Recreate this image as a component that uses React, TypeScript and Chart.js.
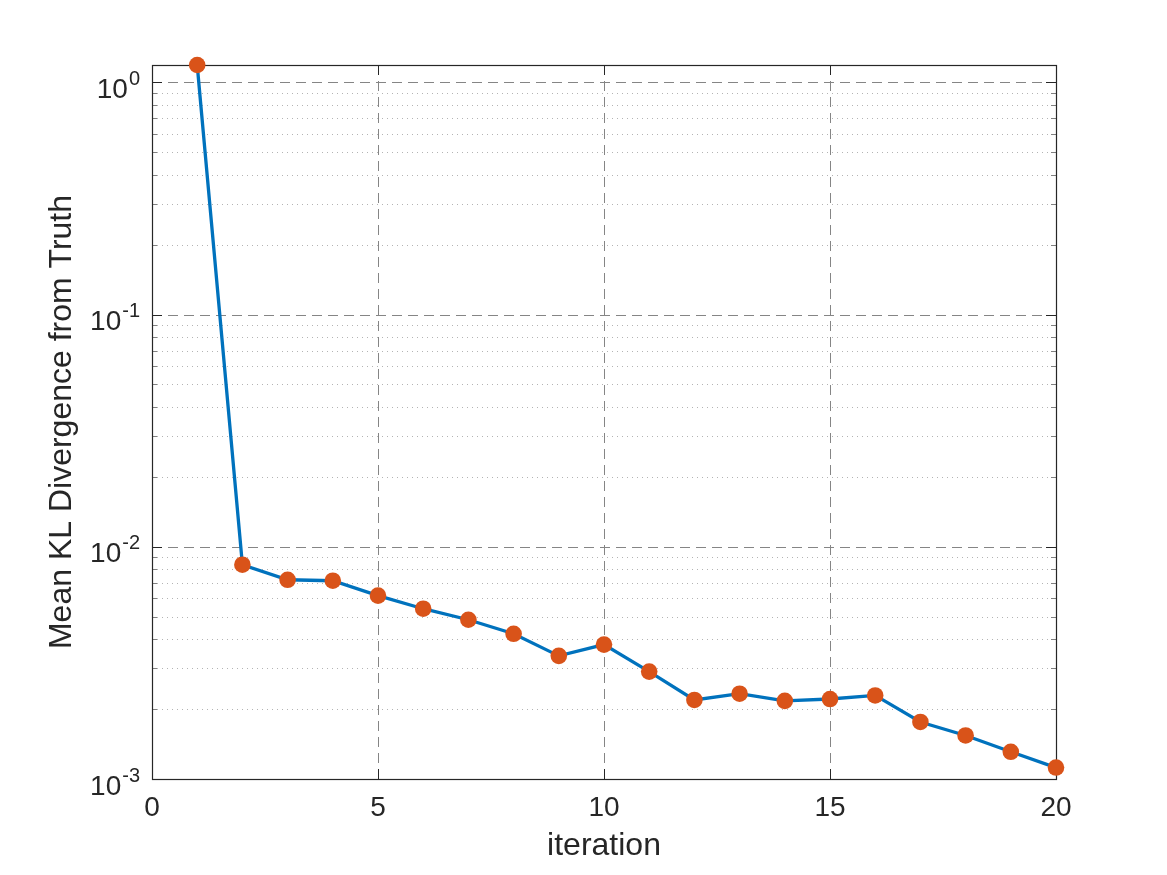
import React, { useEffect, useRef } from "react";
import { Chart, registerables } from "chart.js";

Chart.register(...registerables);

const iterations = [1, 2, 3, 4, 5, 6, 7, 8, 9, 10, 11, 12, 13, 14, 15, 16, 17, 18, 19, 20];
const klDivergence = [
  1.187, 0.00837, 0.00721, 0.00714, 0.00616, 0.00541, 0.00485, 0.00422, 0.00339, 0.00379,
  0.0029, 0.00219, 0.00233, 0.00217, 0.00221, 0.00229, 0.00176, 0.00154, 0.00131, 0.00112,
];
const xTicks = [0, 5, 10, 15, 20];
const yDecades = [0.001, 0.01, 0.1, 1];
const yTickBase = "10";
const yTickExponents = ["-3", "-2", "-1", "0"];
const yMin = 0.001;
const yMax = 1.187;
const xLabel = "iteration";
const yLabel = "Mean KL Divergence from Truth";

const FONT = "'Liberation Sans', Arial, Helvetica, sans-serif";
const TXT = "#262626";

const axesPlugin = {
  id: "matlabAxes",
  beforeDatasetsDraw(chart: any) {
    const { ctx, chartArea } = chart;
    const { left, right, top, bottom } = chartArea;
    const xs = chart.scales.x;
    const ys = chart.scales.y;
    ctx.save();
    // minor y grid (dotted)
    for (const d of yDecades) {
      for (let m = 2; m <= 9; m++) {
        const v = m * d;
        if (v > yMax) continue;
        const py = Math.round(ys.getPixelForValue(v)) + 0.5;
        ctx.setLineDash([1, 4]);
        ctx.strokeStyle = "#b4b4b4";
        ctx.lineWidth = 1;
        ctx.beginPath();
        ctx.moveTo(left, py);
        ctx.lineTo(right, py);
        ctx.stroke();
        ctx.setLineDash([]);
        ctx.strokeStyle = "#808080";
        ctx.beginPath();
        ctx.moveTo(left, py);
        ctx.lineTo(left + 5, py);
        ctx.moveTo(right, py);
        ctx.lineTo(right - 5, py);
        ctx.stroke();
      }
    }
    // major y grid (dashed)
    for (const v of yDecades) {
      const py = Math.round(ys.getPixelForValue(v)) + 0.5;
      if (v > yMin) {
        ctx.setLineDash([10, 6]);
        ctx.strokeStyle = "#858585";
        ctx.lineWidth = 1;
        ctx.beginPath();
        ctx.moveTo(left, py);
        ctx.lineTo(right, py);
        ctx.stroke();
      }
      ctx.setLineDash([]);
      ctx.strokeStyle = TXT;
      ctx.beginPath();
      ctx.moveTo(left, py);
      ctx.lineTo(left + 10, py);
      ctx.moveTo(right, py);
      ctx.lineTo(right - 10, py);
      ctx.stroke();
    }
    // x grid
    for (const v of xTicks) {
      const px = Math.round(xs.getPixelForValue(v)) + 0.5;
      if (v > 0 && v < 20) {
        ctx.setLineDash([10, 6]);
        ctx.strokeStyle = "#858585";
        ctx.lineWidth = 1;
        ctx.beginPath();
        ctx.moveTo(px, bottom);
        ctx.lineTo(px, top);
        ctx.stroke();
      }
      ctx.setLineDash([]);
      ctx.strokeStyle = TXT;
      ctx.beginPath();
      ctx.moveTo(px, bottom);
      ctx.lineTo(px, bottom - 10);
      ctx.moveTo(px, top);
      ctx.lineTo(px, top + 10);
      ctx.stroke();
    }
    // box
    ctx.setLineDash([]);
    ctx.strokeStyle = TXT;
    ctx.lineWidth = 1.2;
    ctx.strokeRect(Math.round(left) + 0.5, Math.round(top) + 0.5, Math.round(right - left), Math.round(bottom - top));

    // y tick labels with superscript exponents
    const rightEdge = left - 12;
    ctx.fillStyle = TXT;
    ctx.textAlign = "left";
    ctx.textBaseline = "alphabetic";
    yDecades.forEach((v, i) => {
      const py = ys.getPixelForValue(v);
      ctx.font = `28px ${FONT}`;
      const wBase = ctx.measureText(yTickBase).width;
      ctx.font = `20px ${FONT}`;
      const exp = yTickExponents[i];
      const wExp = ctx.measureText(exp).width;
      const x0 = rightEdge - wBase - wExp - 1;
      ctx.font = `28px ${FONT}`;
      ctx.fillText(yTickBase, x0, py + 15.5);
      ctx.font = `20px ${FONT}`;
      ctx.fillText(exp, x0 + wBase + 1, py + 2.5);
    });
    ctx.restore();
  },
};

export default function App() {
  const ref = useRef<HTMLCanvasElement | null>(null);
  useEffect(() => {
    if (!ref.current) return;
    const chart = new Chart(ref.current, {
      type: "line",
      data: {
        datasets: [
          {
            data: iterations.map((x, i) => ({ x, y: klDivergence[i] })),
            borderColor: "#0072BD",
            borderWidth: 3.3,
            pointRadius: 8.3,
            pointHoverRadius: 8.3,
            pointBackgroundColor: "#D95319",
            pointBorderColor: "#D95319",
            pointBorderWidth: 0,
            tension: 0,
            clip: false as any,
          },
        ],
      },
      options: {
        animation: false,
        responsive: true,
        maintainAspectRatio: false,
        layout: { padding: { left: 0, top: 65, right: 111, bottom: 0 } },
        plugins: { legend: { display: false }, tooltip: { enabled: false } },
        scales: {
          x: {
            type: "linear",
            min: 0,
            max: 20,
            afterBuildTicks: (s: any) => {
              s.ticks = xTicks.map((v) => ({ value: v }));
            },
            afterFit: (s: any) => {
              s.height = 96;
            },
            grid: { display: false, drawTicks: false },
            border: { display: false },
            ticks: {
              color: TXT,
              padding: 12,
              maxRotation: 0,
              font: { family: FONT, size: 28 },
              callback: (v: any) => String(v),
            },
            title: {
              display: true,
              text: xLabel,
              color: TXT,
              font: { family: FONT, size: 32 },
              padding: { top: 0, bottom: 10 },
            },
          },
          y: {
            type: "logarithmic",
            min: yMin,
            max: yMax,
            afterBuildTicks: (s: any) => {
              s.ticks = yDecades.map((v) => ({ value: v }));
            },
            afterFit: (s: any) => {
              s.width = 152;
            },
            grid: { display: false, drawTicks: false },
            border: { display: false },
            ticks: { display: false },
            title: {
              display: true,
              text: yLabel,
              color: TXT,
              font: { family: FONT, size: 32 },
              padding: { top: 43, bottom: 0 },
            },
          },
        },
      },
      plugins: [axesPlugin],
    });
    return () => chart.destroy();
  }, []);
  return (
    <div style={{ position: "fixed", left: 0, top: 0, width: 1167, height: 875, background: "#fff" }}>
      <canvas ref={ref} />
    </div>
  );
}
